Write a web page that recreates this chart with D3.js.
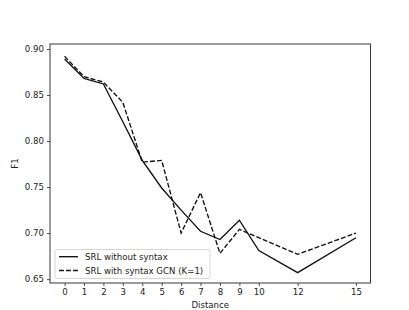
<!DOCTYPE html>
<html>
<head>
<meta charset="utf-8">
<script src="https://cdn.jsdelivr.net/npm/d3@7"></script>
<style>
  body { margin: 0; background: #fff; }
  text { font-family: "DejaVu Sans", sans-serif; fill: #222; }
</style>
</head>
<body>
<div id="chart"></div>
<script>
const width = 409
const height = 310

// data
const distances = [0, 1, 2, 3, 4, 5, 6, 7, 8, 9, 10, 12, 15]
const noSyntax = [0.889, 0.868, 0.862, 0.821, 0.779, 0.749, 0.725, 0.702, 0.693, 0.714, 0.681, 0.657, 0.695]
const withGcn = [0.892, 0.870, 0.864, 0.842, 0.777, 0.779, 0.700, 0.744, 0.678, 0.704, 0.695, 0.677, 0.700]
const yTicks = [0.65, 0.70, 0.75, 0.80, 0.85, 0.90]
const seriesNames = ["SRL without syntax", "SRL with syntax GCN (K=1)"]

const margin = {left: 50, right: 38.5, top: 44, bottom: 27}

const x = d3.scaleLinear()
            .domain([-0.75, 15.75])
            .range([margin.left, width - margin.right])

const y = d3.scaleLinear()
            .domain([0.6458, 0.9054])
            .range([height - margin.bottom, margin.top])

const svg = d3.select("#chart")
              .append("svg")
              .attr("width", width)
              .attr("height", height)

//Axes
const xAxis = svg.append("g")
                 .attr("transform", `translate(0, ${height - margin.bottom})`)
                 .call(d3.axisBottom(x).tickValues(distances).tickSize(3).tickPadding(3))
const yAxis = svg.append("g")
                 .attr("transform", `translate(${margin.left}, 0)`)
                 .call(d3.axisLeft(y).tickValues(yTicks).tickFormat(d3.format(".2f")).tickSize(3).tickPadding(3))

svg.selectAll(".domain").remove()
svg.selectAll(".tick line").attr("stroke", "#222").attr("stroke-width", 0.8)
svg.selectAll(".tick text").style("font-size", "8.6px").style("font-family", "DejaVu Sans, sans-serif").attr("fill", "#222")

// frame
svg.append("rect")
   .attr("x", margin.left)
   .attr("y", margin.top)
   .attr("width", width - margin.left - margin.right)
   .attr("height", height - margin.top - margin.bottom)
   .attr("fill", "none")
   .attr("stroke", "#222")
   .attr("stroke-width", 0.9)

const line = d3.line()
               .x((d, i) => x(distances[i]))
               .y(d => y(d))

svg.append("path")
   .datum(noSyntax)
   .attr("d", line)
   .attr("fill", "none")
   .attr("stroke", "#111")
   .attr("stroke-width", 1.35)

svg.append("path")
   .datum(withGcn)
   .attr("d", line)
   .attr("fill", "none")
   .attr("stroke", "#111")
   .attr("stroke-width", 1.35)
   .attr("stroke-dasharray", "4.9,2.1")

//Labels
svg.append("text")
   .attr("x", (margin.left + width - margin.right) / 2)
   .attr("y", 308)
   .attr("text-anchor", "middle")
   .style("font-size", "8.6px")
   .text("Distance")

svg.append("text")
   .attr("transform", `translate(18, ${(margin.top + height - margin.bottom) / 2}) rotate(-90)`)
   .attr("text-anchor", "middle")
   .style("font-size", "8.6px")
   .text("F1")

//Legend
const legend = svg.append("g")
                  .attr("id", "legend")

legend.append("rect")
      .attr("x", 55)
      .attr("y", 249.5)
      .attr("width", 155)
      .attr("height", 29)
      .attr("rx", 2)
      .attr("fill", "#fff")
      .attr("fill-opacity", 0.8)
      .attr("stroke", "#ccc")
      .attr("stroke-width", 0.8)

seriesNames.forEach((name, i) => {
  const ly = 256.7 + i * 13.8
  legend.append("line")
        .attr("x1", 59)
        .attr("x2", 78)
        .attr("y1", ly)
        .attr("y2", ly)
        .attr("stroke", "#111")
        .attr("stroke-width", 1.35)
        .attr("stroke-dasharray", i == 1 ? "4.9,2.1" : null)
  legend.append("text")
        .attr("x", 85)
        .attr("y", ly + 3.1)
        .style("font-size", "8.6px")
        .text(name)
})
</script>
</body>
</html>
